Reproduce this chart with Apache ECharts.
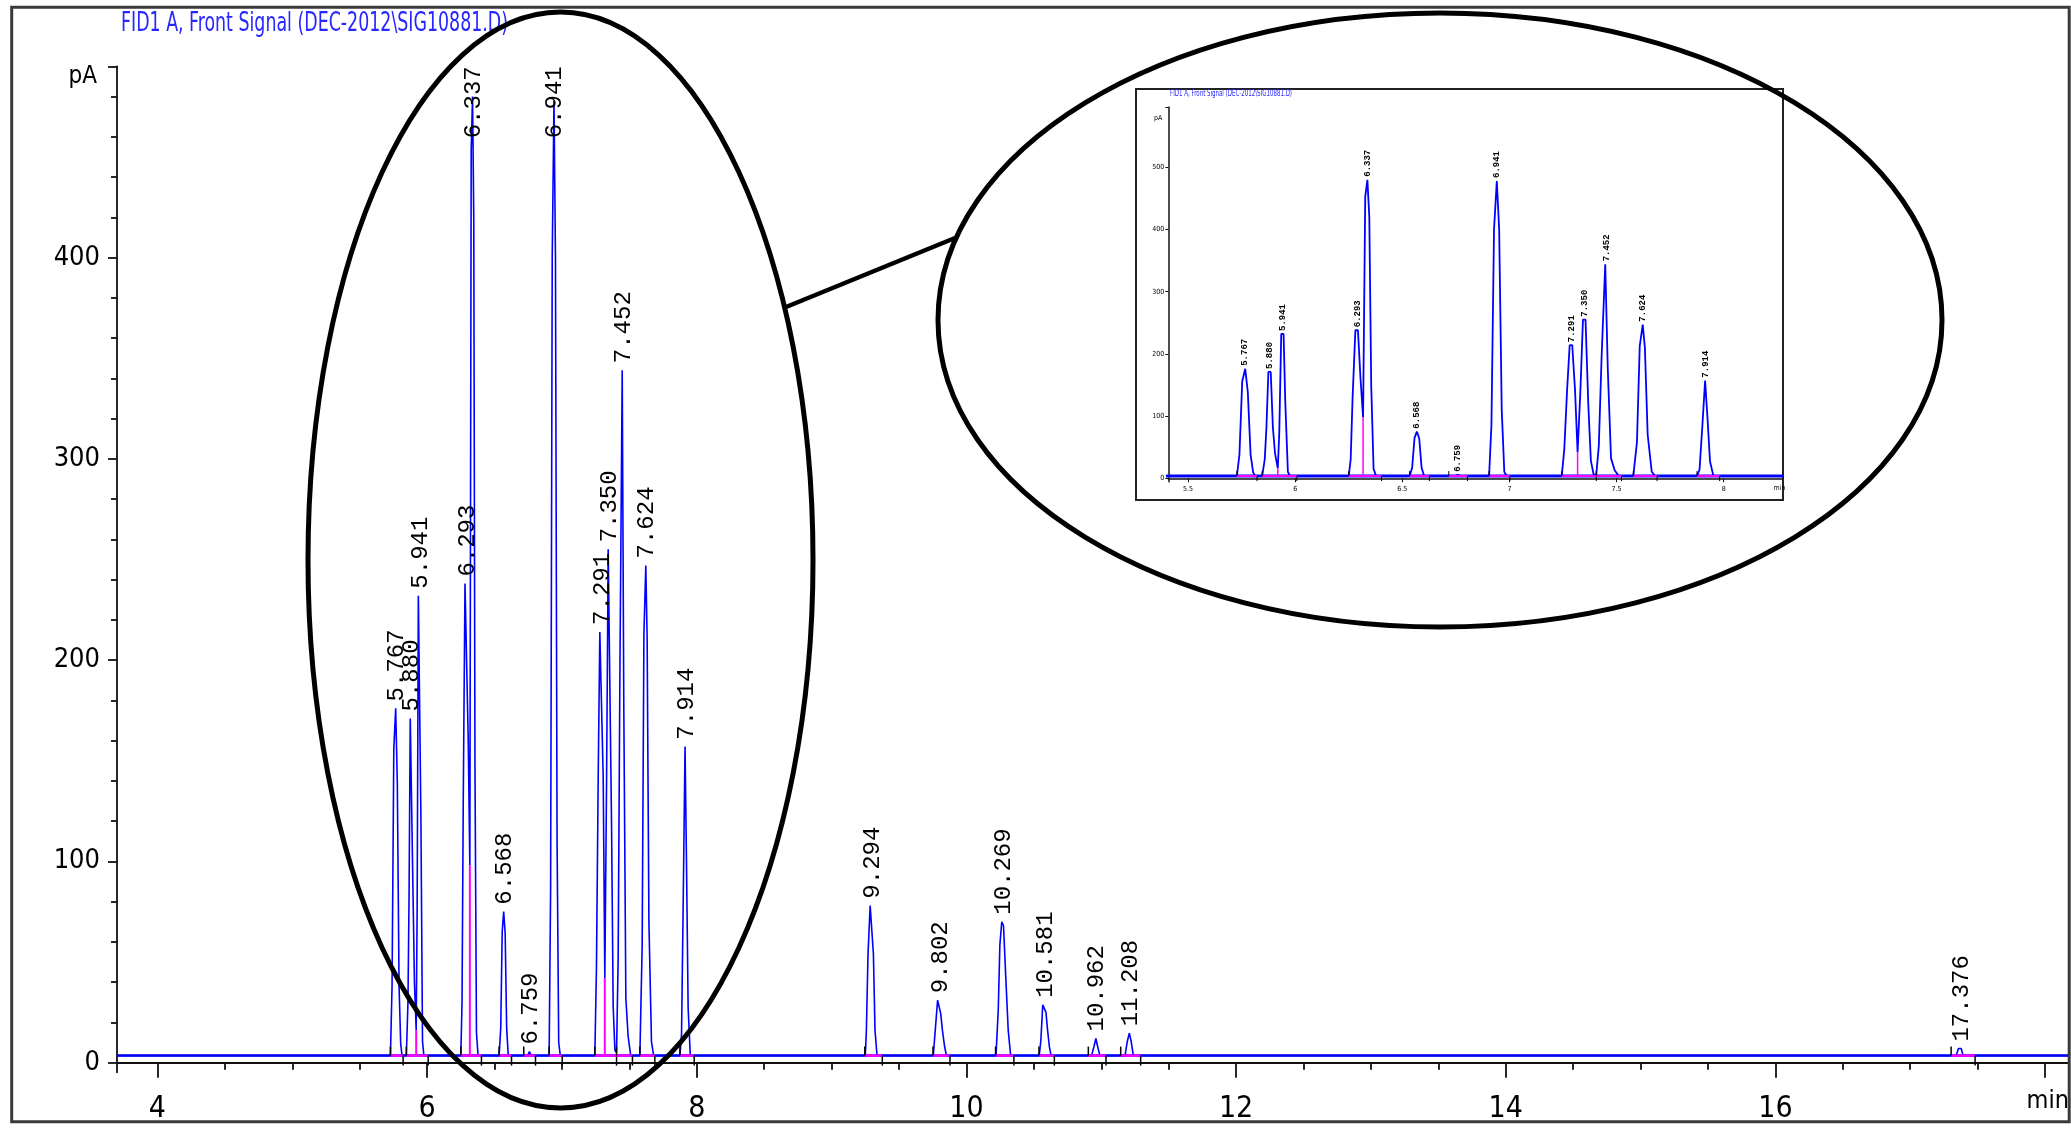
<!DOCTYPE html>
<html><head><meta charset="utf-8">
<script src="https://cdn.jsdelivr.net/npm/echarts@6/dist/echarts.min.js"></script>
<style>html,body{margin:0;padding:0;background:#fff}#c{width:2071px;height:1129px}</style>
</head><body><div id="c"></div>
<script>
// ---------- data ----------
const titleText = 'FID1 A, Front Signal (DEC-2012\\SIG10881.D)';
const peakRT = ['5.767','5.880','5.941','6.293','6.337','6.568','6.759','6.941','7.291','7.350','7.452','7.624','7.914','9.294','9.802','10.269','10.581','10.962','11.208','17.376'];
const peakHeight = [176,171,232,238,480,75,5.5,478,214,255,344,247,157,78,31,70,28.7,12,14.6,7];
const baselineLevel = 3.5;
const tracePoints = [
 [3.70,3.5],
 [5.728,3.5],[5.740,38],[5.753,156],[5.767,176],[5.779,139],[5.792,38],[5.804,9.5],[5.814,3.5],
 [5.846,3.5],[5.858,30],[5.866,82],[5.875,171],[5.886,171],[5.896,82],[5.906,40],[5.919,16],[5.926,75],[5.935,232],[5.946,232],[5.954,122],[5.966,10.5],[5.976,3.5],
 [6.250,3.5],[6.259,30],[6.268,129],[6.281,238],[6.293,238],[6.305,160],[6.317,98],[6.327,453],[6.337,480],[6.346,420],[6.355,148],[6.366,15],[6.378,3.5],
 [6.534,3.5],[6.546,17],[6.557,65],[6.568,75],[6.579,64],[6.590,17],[6.602,3.5],
 [6.745,3.5],[6.759,5.5],[6.773,3.5],
 [6.905,3.5],[6.916,86],[6.928,400],[6.941,478],[6.952,400],[6.964,110],[6.976,10],[6.988,3.5],
 [7.244,3.5],[7.256,47],[7.269,142],[7.281,214],[7.293,214],[7.306,142],[7.318,42],[7.331,140],[7.343,255],[7.355,255],[7.368,118],[7.380,28],[7.393,6],
 [7.405,5],[7.417,52],[7.430,195],[7.447,344],[7.459,175],[7.474,32],[7.491,13],[7.510,3.5],
 [7.578,3.5],[7.595,58],[7.608,213],[7.622,247],[7.632,210],[7.645,70],[7.664,10.5],[7.680,3.5],
 [7.875,3.5],[7.887,14],[7.900,83],[7.913,157],[7.924,98],[7.936,27],[7.952,3.5],
 [9.250,3.5],[9.258,16],[9.270,54],[9.286,78],[9.300,78],[9.310,54],[9.322,16],[9.337,3.5],
 [9.754,3.5],[9.771,18],[9.786,31],[9.800,31],[9.809,24.5],[9.822,16],[9.838,8],[9.852,3.5],
 [10.219,3.5],[10.236,26],[10.248,58.5],[10.262,70],[10.275,68],[10.292,42],[10.310,16],[10.328,3.5],
 [10.540,3.5],[10.552,11],[10.566,28.7],[10.580,28.7],[10.590,25],[10.602,16],[10.615,8],[10.628,3.5],
 [10.928,3.5],[10.946,8],[10.960,12],[10.973,8],[10.990,3.5],
 [11.176,3.5],[11.193,10.5],[11.208,14.6],[11.222,10.5],[11.238,3.5],
 [17.340,3.5],[17.358,7],[17.378,7],[17.392,3.5],
 [18.17,3.5]
];
const intStart = [5.728,5.846,6.250,6.534,6.717,6.905,7.244,7.405,7.578,7.875,9.246,9.752,10.216,10.538,10.904,11.144,17.303];
const intEnd   = [5.822,6.008,6.403,6.626,6.804,7.002,7.405,7.523,7.689,7.981,9.376,9.878,10.352,10.652,11.035,11.292,17.481];
const dropT = [5.919,6.317,7.318];
const dropV = [16,98,42];
const xLabelVals = [4,6,8,10,12,14,16];
const xMajorTicks = [4,6,8,10,12,14,16,18];
const xMinorTicks = [4.5,5,5.5,6.5,7,7.5,8.5,9,9.5,10.5,11,11.5,12.5,13,13.5,14.5,15,15.5,16.5,17,17.5];
const yLabelVals = [0,100,200,300,400];
const yMinorTicks = [20,40,60,80,120,140,160,180,220,240,260,280,320,340,360,380,420,440,460,480];
const insetXLabels = [5.5,6,6.5,7,7.5,8];
const insetYLabels = [0,100,200,300,400,500];

// ---------- layout ----------
const X_MIN = 3.7, X_MAX = 18.17, Y_MIN = -4.8, Y_MAX = 495;
const IX_MIN = 5.408, IX_MAX = 8.27, IY_MIN = -5.5, IY_MAX = 597;

function hasFont(name){
  const c = document.createElement('canvas').getContext('2d');
  const s = 'FID1 A, Front Signal 0123456789 min pA';
  c.font = '40px monospace'; const w1 = c.measureText(s).width;
  c.font = '40px "' + name + '", monospace'; const w2 = c.measureText(s).width;
  return Math.abs(w1 - w2) > 0.5;
}
const NARROW = hasFont('Liberation Sans Narrow') ? 'Liberation Sans Narrow'
  : (hasFont('DejaVu Sans Condensed') ? 'DejaVu Sans Condensed' : 'Liberation Sans');
const MONO = 'Liberation Mono';
function textWidth(size, family, txt){
  const c = document.createElement('canvas').getContext('2d');
  c.font = size + 'px "' + family + '"';
  return c.measureText(txt).width;
}
const TITLE_SIZE = 26, INSET_TITLE_SIZE = 8;
const titleScale = 387 / textWidth(TITLE_SIZE, NARROW, titleText);
const insetTitleScale = 122 / textWidth(INSET_TITLE_SIZE, NARROW, titleText);

const BLUE = '#0000ff', MAG = '#ff00ff';

function integRender(up, down, tw, mw){
  return function(params, api){
    const s = api.coord([api.value(0), api.value(2)]);
    const e = api.coord([api.value(1), api.value(2)]);
    return {type:'group', children:[
      {type:'line', shape:{x1:s[0],y1:s[1],x2:e[0],y2:e[1]}, style:{stroke:MAG,lineWidth:mw}},
      {type:'line', shape:{x1:s[0],y1:s[1],x2:s[0],y2:s[1]-up}, style:{stroke:'#000',lineWidth:tw}},
      {type:'line', shape:{x1:e[0],y1:e[1],x2:e[0],y2:e[1]+down}, style:{stroke:'#000',lineWidth:tw}}
    ]};
  };
}
function dropRender(mw){
  return function(params, api){
    const a = api.coord([api.value(0), baselineLevel]);
    const b = api.coord([api.value(0), api.value(1)]);
    return {type:'line', shape:{x1:a[0],y1:a[1],x2:b[0],y2:b[1]}, style:{stroke:MAG,lineWidth:mw}};
  };
}
function labelRender(fontSize, charW, gap, dx, bold){
  return function(params, api){
    const p = api.coord([api.value(0), api.value(1)]);
    const cs = params.coordSys;
    if (p[0] < cs.x || p[0] > cs.x + cs.width) return null;
    const txt = peakRT[params.dataIndex];
    const len = txt.length * charW;
    let y = p[1] - gap;
    if (y - len < cs.y) y = cs.y + len;
    return {type:'text', x:p[0]+dx, y:y, rotation:Math.PI/2,
      style:{text:txt, fontSize:fontSize, fontFamily:MONO, fontWeight: bold?'bold':'normal', fill:'#000', align:'left', verticalAlign:'middle'}};
  };
}

const integData = intStart.map((s,i)=>[s, intEnd[i], baselineLevel]);
const dropData = dropT.map((t,i)=>[t, dropV[i]]);
const labelData = peakRT.map((r,i)=>[parseFloat(r), peakHeight[i]]);
const baseData = [[X_MIN, baselineLevel],[X_MAX, baselineLevel]];

const axLine = {lineStyle:{color:'#111', width:1.8}};
const option = {
  animation:false,
  backgroundColor:'#fff',
  grid:[
    {left:117, right:3, top:66.3, bottom:56.7, containLabel:false, outerBoundsMode:'none'},
    {left:1168.3, right:289.4, top:107, bottom:647.3, containLabel:false, outerBoundsMode:'none'}
  ],
  xAxis:[
    {type:'value', gridIndex:0, min:X_MIN, max:X_MAX, position:'bottom',
     axisLine:axLine, splitLine:{show:false},
     axisTick:{customValues:xMajorTicks, length:15, lineStyle:{color:'#111', width:1.8}},
     axisLabel:{customValues:xLabelVals, margin:22, fontSize:30, fontFamily:NARROW, color:'#000'},
     name:'min', nameLocation:'end', nameGap:1,
     nameTextStyle:{fontSize:25, fontFamily:NARROW, color:'#000', align:'right', verticalAlign:'top', padding:[26,0,0,0]}},
    {type:'value', gridIndex:0, min:X_MIN, max:X_MAX, position:'bottom',
     axisLine:{show:false}, splitLine:{show:false}, axisLabel:{show:false},
     axisTick:{customValues:xMinorTicks, length:7, lineStyle:{color:'#111', width:1.8}}},
    {type:'value', gridIndex:1, min:IX_MIN, max:IX_MAX, position:'bottom',
     axisLine:{lineStyle:{color:'#111', width:1.5}}, splitLine:{show:false},
     axisTick:{customValues:insetXLabels, length:4, lineStyle:{color:'#111', width:1}},
     axisLabel:{customValues:insetXLabels, margin:4, fontSize:7, fontFamily:NARROW, color:'#000'},
     name:'min', nameLocation:'end', nameGap:-8,
     nameTextStyle:{fontSize:7, fontFamily:NARROW, color:'#000', align:'left', verticalAlign:'top', padding:[6,0,0,0]}}
  ],
  yAxis:[
    {type:'value', gridIndex:0, min:Y_MIN, max:Y_MAX, position:'left',
     axisLine:axLine, splitLine:{show:false},
     axisTick:{customValues:yLabelVals.concat([Y_MAX]), length:9, lineStyle:{color:'#111', width:1.8}},
     axisLabel:{customValues:yLabelVals, margin:17, fontSize:27, fontFamily:NARROW, color:'#000'},
     name:'pA', nameLocation:'end', nameGap:2,
     nameTextStyle:{fontSize:24, fontFamily:NARROW, color:'#000', align:'right', verticalAlign:'top', padding:[0,20,0,0]}},
    {type:'value', gridIndex:0, min:Y_MIN, max:Y_MAX, position:'left', offset:0,
     axisLine:{show:false}, splitLine:{show:false}, axisLabel:{show:false},
     axisTick:{customValues:yMinorTicks, length:6, lineStyle:{color:'#111', width:1.8}}},
    {type:'value', gridIndex:1, min:IY_MIN, max:IY_MAX, position:'left',
     axisLine:{lineStyle:{color:'#111', width:1.5}}, splitLine:{show:false},
     axisTick:{customValues:insetYLabels.concat([IY_MAX]), length:3, lineStyle:{color:'#111', width:1}},
     axisLabel:{customValues:insetYLabels, margin:4, fontSize:7, fontFamily:NARROW, color:'#000'},
     name:'pA', nameLocation:'end', nameGap:-8,
     nameTextStyle:{fontSize:7, fontFamily:NARROW, color:'#000', align:'right', verticalAlign:'top', padding:[0,6,0,0]}}
  ],
  series:[
    {type:'line', xAxisIndex:0, yAxisIndex:0, data:baseData, showSymbol:false, lineStyle:{color:BLUE,width:2.5}, z:2},
    {type:'line', xAxisIndex:0, yAxisIndex:0, data:tracePoints, showSymbol:false, lineStyle:{color:BLUE,width:1.6}, z:3},
    {type:'custom', xAxisIndex:0, yAxisIndex:0, data:integData, renderItem:integRender(9,10,1.5,2.5), encode:{x:[0,1], y:2}, z:4},
    {type:'custom', xAxisIndex:0, yAxisIndex:0, data:dropData, renderItem:dropRender(2), encode:{x:0, y:1}, z:4},
    {type:'custom', xAxisIndex:0, yAxisIndex:0, data:labelData, renderItem:labelRender(24,14.4,7,1,false), encode:{x:0, y:1}, z:5},

    {type:'line', xAxisIndex:2, yAxisIndex:2, data:baseData, showSymbol:false, lineStyle:{color:BLUE,width:3}, z:2, clip:true},
    {type:'line', xAxisIndex:2, yAxisIndex:2, data:tracePoints, showSymbol:false, lineStyle:{color:BLUE,width:1.8}, z:3, clip:true},
    {type:'custom', xAxisIndex:2, yAxisIndex:2, data:integData, renderItem:integRender(5,5,1,2), encode:{x:[0,1], y:2}, z:4, clip:true},
    {type:'custom', xAxisIndex:2, yAxisIndex:2, data:dropData, renderItem:dropRender(1.5), encode:{x:0, y:1}, z:4, clip:true},
    {type:'custom', xAxisIndex:2, yAxisIndex:2, data:labelData, renderItem:labelRender(9,5.4,3,0,true), encode:{x:0, y:1}, z:5, clip:true}
  ],
  graphic:[
    {type:'rect', shape:{x:1136, y:89, width:647, height:411}, style:{fill:'#fff', stroke:'#222', lineWidth:2}, z:0, silent:true},
    {type:'text', x:121, y:11, scaleX:titleScale, z:50, silent:true,
     style:{text:titleText, fontSize:TITLE_SIZE, fontFamily:NARROW, fill:'#2626ff', align:'left', verticalAlign:'top'}},
    {type:'text', x:1170, y:90, scaleX:insetTitleScale, z:50, silent:true,
     style:{text:titleText, fontSize:INSET_TITLE_SIZE, fontFamily:NARROW, fill:'#2626ff', align:'left', verticalAlign:'top'}},
    {type:'rect', shape:{x:11.7, y:7.3, width:2057.5, height:1114.4}, style:{fill:null, stroke:'#3a3a3a', lineWidth:3}, z:100, silent:true},
    {type:'ellipse', shape:{cx:560.5, cy:560, rx:252.5, ry:548}, style:{fill:null, stroke:'#000', lineWidth:5}, z:100, silent:true},
    {type:'ellipse', shape:{cx:1440, cy:320, rx:502, ry:307}, style:{fill:null, stroke:'#000', lineWidth:5}, z:100, silent:true},
    {type:'line', shape:{x1:786, y1:307, x2:955, y2:238}, style:{stroke:'#000', lineWidth:4.5}, z:100, silent:true}
  ]
};
const chart = echarts.init(document.getElementById('c'), null, {renderer:'canvas', width:2071, height:1129});
chart.setOption(option);
</script></body></html>
